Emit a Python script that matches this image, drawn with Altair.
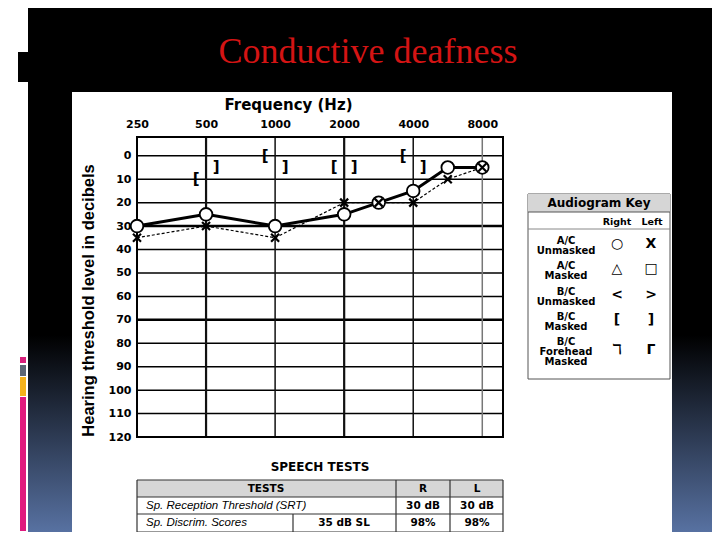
import json
import altair as alt
import pandas as pd

# ---------------- data ----------------
freq_labels = ["250", "500", "1000", "2000", "4000", "8000"]
test_freqs = [250, 500, 1000, 2000, 3000, 4000, 6000, 8000]
right_ac = [30, 25, 30, 25, 20, 15, 5, 5]
left_ac = [35, 30, 35, 20, 20, 20, 10, 5]
bone_freqs = [500, 1000, 2000, 4000]
right_bc_masked = [10, 0, 5, 0]
left_bc_masked = [5, 5, 5, 5]
db_ticks = list(range(0, 130, 10))

key_rows = [["A/C", "Unmasked"], ["A/C", "Masked"], ["B/C", "Unmasked"],
            ["B/C", "Masked"], ["B/C", "Forehead", "Masked"]]
key_right = ["○", "△", "<", "[", "ℸ"]
key_left = ["X", "□", ">", "]", "Γ"]

speech_header = ["TESTS", "R", "L"]
srt_row = ["Sp. Reception Threshold (SRT)", "30 dB", "30 dB"]
sds_row = ["Sp. Discrim. Scores", "35 dB SL", "98%", "98%"]


def audiogram_pos(f):
    base, octv = 250, 0
    while base * 2 <= f:
        base *= 2
        octv += 1
    return octv + (f - base) / base


right_df = pd.DataFrame({"freq": test_freqs, "db": right_ac})
left_df = pd.DataFrame({"freq": test_freqs, "db": left_ac})
rbc_df = pd.DataFrame({"freq": bone_freqs, "db": right_bc_masked})
lbc_df = pd.DataFrame({"freq": bone_freqs, "db": left_bc_masked})
for d in (right_df, left_df, rbc_df, lbc_df):
    d["pos"] = d["freq"].map(audiogram_pos)
vgrid_df = pd.DataFrame({"pos": [audiogram_pos(int(f)) for f in freq_labels[1:]]})
hgrid_df = pd.DataFrame({"db": db_ticks[:-1]})

# ---------------- layout helpers ----------------
W, H = 366, 300
X0, Y0 = 137, 137  # plot origin in page coordinates
PAD = {"left": X0 - 8, "top": Y0 - 8, "right": 704 - (X0 - 8) - W, "bottom": 524 - (Y0 - 8) - H}


def px(x):
    return x - X0


def py(y):
    return y - Y0


one = pd.DataFrame({"k": [0]})


def rect(x1, y1, x2, y2, **kw):
    return alt.Chart(one).mark_rect(**kw).encode(
        x=alt.value(px(x1)), x2=alt.value(px(x2)), y=alt.value(py(y1)), y2=alt.value(py(y2)))


def rule(x1, y1, x2, y2, **kw):
    return alt.Chart(one).mark_rule(**kw).encode(
        x=alt.value(px(x1)), x2=alt.value(px(x2)), y=alt.value(py(y1)), y2=alt.value(py(y2)))


def text(s, x, y, **kw):
    kw.setdefault("color", "black")
    return alt.Chart(one).mark_text(text=s, **kw).encode(x=alt.value(px(x)), y=alt.value(py(y)))


xscale = alt.Scale(domain=[0, 5.3], nice=False, zero=False)
yscale = alt.Scale(domain=[-8, 120], reverse=True, nice=False, zero=False)
xaxis = alt.Axis(orient="top", values=list(range(6)),
                 labelExpr=json.dumps(freq_labels) + "[datum.value]",
                 title="Frequency (Hz)", grid=False, domain=False, ticks=False,
                 labelPadding=8, labelFont="DejaVu Sans", labelFontWeight="bold",
                 labelFontSize=11, labelColor="black", labelFlush=False,
                 titleFont="DejaVu Sans", titleFontSize=15, titleFontWeight="bold",
                 titleColor="black", titleX=151, titleY=-28, titleAlign="center",
                 titleBaseline="alphabetic", zindex=1)
yaxis = alt.Axis(orient="left", values=db_ticks, grid=False, domain=False, ticks=False,
                 labelPadding=6, labelFont="DejaVu Sans", labelFontWeight="bold",
                 labelFontSize=11, labelColor="black",
                 title="Hearing threshold level in decibels",
                 titleFont="Liberation Sans", titleFontSize=16.5, titleFontWeight="bold",
                 titleColor="black", titleX=-49, titleY=163, titleAngle=270,
                 titleAlign="center", titleBaseline="middle", zindex=1)


def X(f="pos"):
    return alt.X(f"{f}:Q", scale=xscale, axis=xaxis)


def Y(f="db"):
    return alt.Y(f"{f}:Q", scale=yscale, axis=yaxis)


# ---------------- slide decoration ----------------
layers = []
layers.append(rect(8, 8, 28, 540, color="white"))
layers.append(rect(18, 52, 28, 82, color="black"))
layers.append(rect(20, 357, 26, 363, color="#d8207c"))
layers.append(rect(20, 365, 26, 376, color="#5c6675"))
layers.append(rect(20, 377, 26, 396, color="#f4b21c"))
layers.append(rect(20, 397, 26, 531, color="#e01a7e"))
layers.append(rect(28, 335, 720, 540, color=alt.Gradient(
    gradient="linear",
    stops=[alt.GradientStop(color="#000000", offset=0),
           alt.GradientStop(color="#5b76a8", offset=1)],
    x1=0, x2=0, y1=0, y2=1)))
layers.append(rect(72, 92, 672, 535, color="white"))

# ---------------- audiogram grid ----------------
layers.append(alt.Chart(hgrid_df).mark_rule(color="black").encode(
    y=Y(),
    strokeWidth=alt.condition("datum.db == 30 || datum.db == 70", alt.value(2.6), alt.value(1.5))))
layers.append(alt.Chart(vgrid_df).mark_rule().encode(
    x=X(),
    strokeWidth=alt.condition("datum.pos == 1 || datum.pos == 3", alt.value(2.2), alt.value(1.5)),
    color=alt.condition("datum.pos == 5", alt.value("#777777"), alt.value("#111111"))))
layers.append(rect(137, 137, 503, 437, filled=False, stroke="black", strokeWidth=2))

# ---------------- bone conduction (masked) ----------------
layers.append(alt.Chart(rbc_df).mark_text(text="[", dx=-10, fontSize=15, fontWeight="bold",
                                          font="DejaVu Sans", color="black").encode(x=X(), y=Y()))
layers.append(alt.Chart(lbc_df).mark_text(text="]", dx=10, fontSize=15, fontWeight="bold",
                                          font="DejaVu Sans", color="black").encode(x=X(), y=Y()))

# ---------------- air conduction ----------------
layers.append(alt.Chart(left_df).mark_line(color="black", strokeWidth=1.2, strokeDash=[3, 2]).encode(
    x=X(), y=Y(), order="pos:Q"))
layers.append(alt.Chart(right_df).mark_line(color="black", strokeWidth=3).encode(
    x=X(), y=Y(), order="pos:Q"))
layers.append(alt.Chart(right_df).mark_point(shape="circle", filled=True, fill="white", fillOpacity=1,
                                             stroke="black", strokeWidth=1.8, size=160, opacity=1).encode(
    x=X(), y=Y()))
layers.append(alt.Chart(left_df).mark_point(shape="M-1,-1L1,1M-1,1L1,-1", filled=False, stroke="black",
                                            strokeWidth=2.2, size=64, opacity=1).encode(x=X(), y=Y()))

# ---------------- audiogram key ----------------
KX1, KX2, KY1, KY2 = 528, 670, 194, 379
layers.append(rect(KX1, KY1, KX2, KY2, filled=False, stroke="#555555", strokeWidth=1))
layers.append(rect(KX1, KY1, KX2, 212, color="#d6d6d6"))
layers.append(rule(KX1, 212, KX2, 212, color="#555555", strokeWidth=1))
layers.append(rule(KX1, 229, KX2, 229, color="#888888", strokeWidth=1))
layers.append(text("Audiogram Key", 599, 203, font="DejaVu Sans", fontSize=12, fontWeight="bold"))
layers.append(text("Right", 617, 222, font="DejaVu Sans", fontSize=9.5, fontWeight="bold"))
layers.append(text("Left", 652, 222, font="DejaVu Sans", fontSize=9.5, fontWeight="bold"))
row_y = [246, 271, 297, 322, 352]
for lab, yy, r, l in zip(key_rows, row_y, key_right, key_left):
    layers.append(text(lab, 566, yy - 5 * (len(lab) - 1), font="DejaVu Sans", fontSize=10,
                       fontWeight="bold", lineHeight=10, baseline="middle"))
    layers.append(text(r, 617, yy - 2, font="DejaVu Sans", fontSize=14, fontWeight="bold", baseline="middle"))
    layers.append(text(l, 651, yy - 2, font="DejaVu Sans", fontSize=14, fontWeight="bold", baseline="middle"))

# ---------------- speech tests table ----------------
layers.append(text("SPEECH TESTS", 320, 467, font="DejaVu Sans", fontSize=12, fontWeight="bold"))
TX1, TX2 = 137, 503
layers.append(rect(TX1, 480, TX2, 497, color="#d6d6d6"))
for yy in [480, 497, 514, 532]:
    layers.append(rule(TX1, yy, TX2, yy, color="#333333", strokeWidth=1.2))
for xx in [TX1, 396, 450, TX2]:
    layers.append(rule(xx, 480, xx, 532, color="#333333", strokeWidth=1.2))
layers.append(rule(293, 514, 293, 532, color="#333333", strokeWidth=1.2))
hdr_x = [266, 423, 477]
for s, xx in zip(speech_header, hdr_x):
    layers.append(text(s, xx, 489, font="DejaVu Sans", fontSize=10.5, fontWeight="bold", baseline="middle"))
layers.append(text(srt_row[0], 146, 506, align="left", font="Liberation Sans", fontSize=11.5,
                   fontStyle="italic", baseline="middle"))
for s, xx in zip(srt_row[1:], hdr_x[1:]):
    layers.append(text(s, xx, 506, font="DejaVu Sans", fontSize=10.5, fontWeight="bold", baseline="middle"))
layers.append(text(sds_row[0], 146, 523, align="left", font="Liberation Sans", fontSize=11.5,
                   fontStyle="italic", baseline="middle"))
for s, xx in zip(sds_row[1:], [344] + hdr_x[1:]):
    layers.append(text(s, xx, 523, font="DejaVu Sans", fontSize=10.5, fontWeight="bold", baseline="middle"))

# ---------------- slide title ----------------
layers.append(text("Conductive deafness", 368, 63, font="Liberation Serif", fontSize=36,
                   color="#d41414", baseline="alphabetic"))

chart = alt.layer(*layers).properties(
    width=W, height=H, padding=PAD, autosize=alt.AutoSizeParams(type="none")
).configure(background="black").configure_view(strokeWidth=0)

chart.save("out.html", embed_options={"renderer": "svg", "actions": False})
